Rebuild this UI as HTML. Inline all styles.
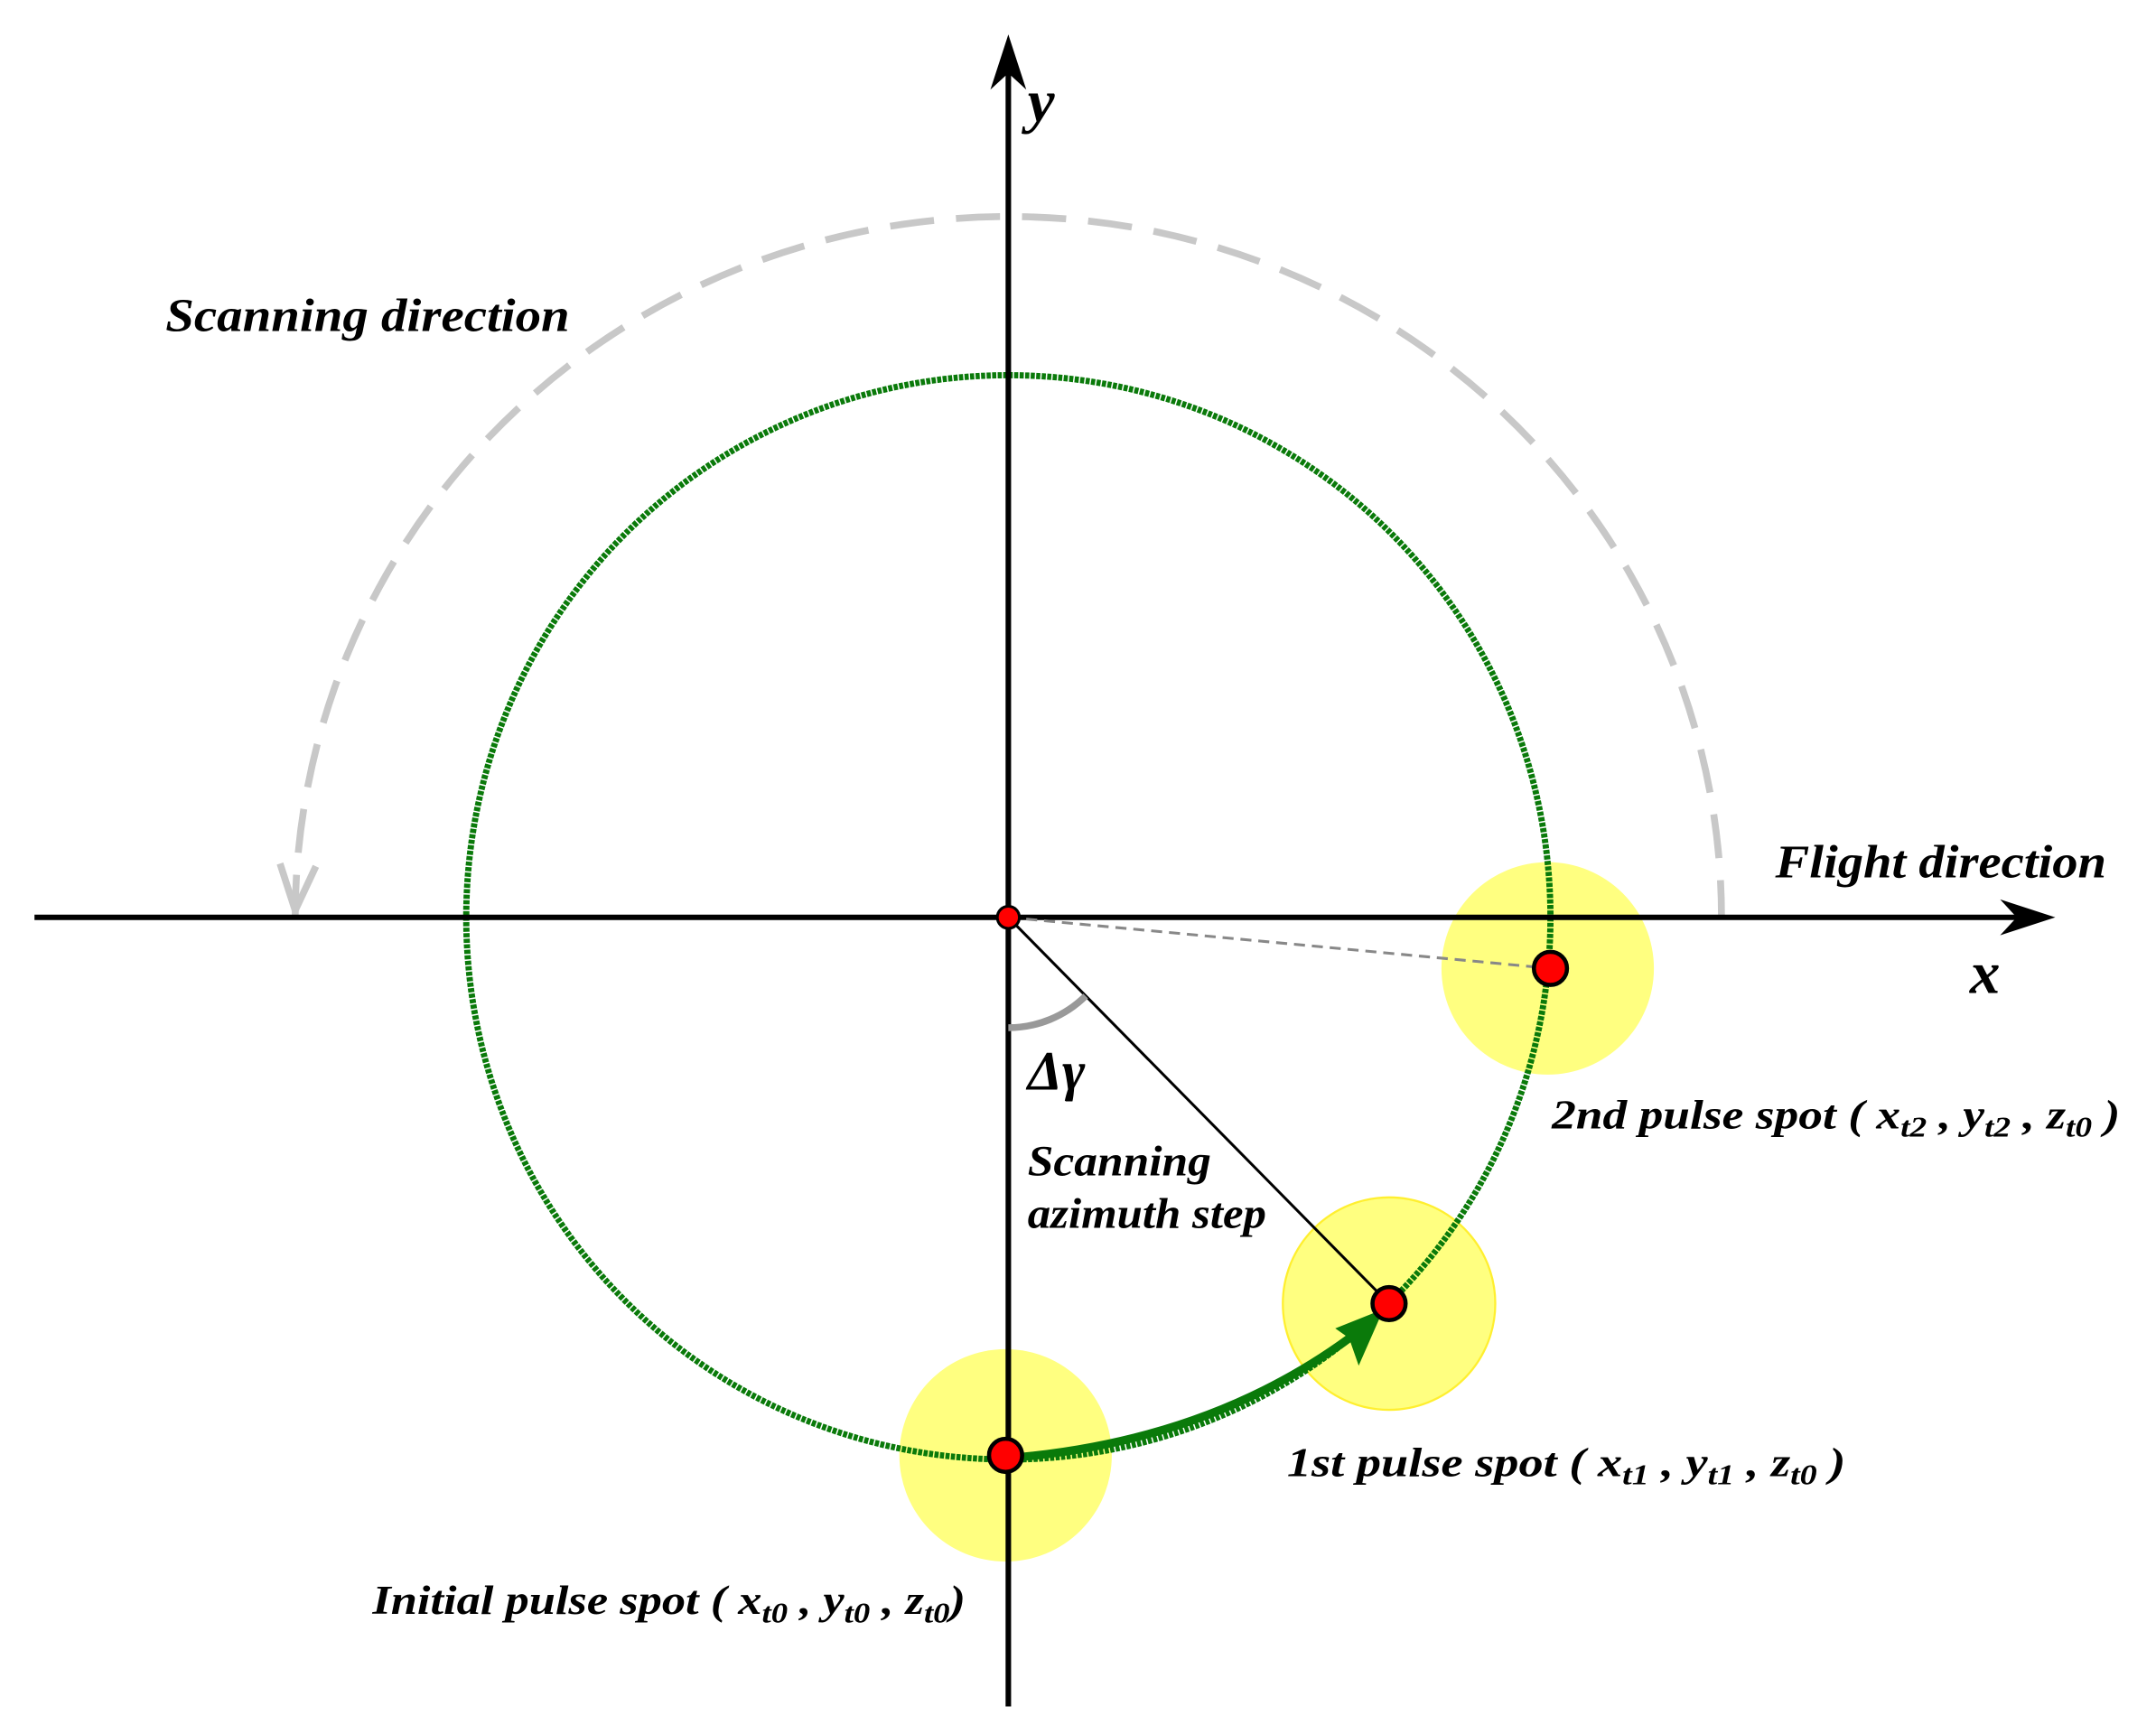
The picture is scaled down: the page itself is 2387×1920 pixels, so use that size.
<!DOCTYPE html>
<html><head><style>html,body{margin:0;padding:0;background:#fff}svg{display:block}</style></head>
<body>
<svg width="2387" height="1920" viewBox="0 0 1563 1257" xmlns="http://www.w3.org/2000/svg" preserveAspectRatio="none">
<!-- dashed scanning arc -->
<path d="M1248,665 A517,508 0 0 0 214,665" fill="none" stroke="#c8c8c8" stroke-width="5" stroke-dasharray="32,16" stroke-dashoffset="5"/>
<polyline points="203,626 214,660 229,628" fill="none" stroke="#c8c8c8" stroke-width="5"/>
<!-- yellow spots -->
<circle cx="729" cy="1055" r="77" fill="#ffff80"/>
<circle cx="1007" cy="945" r="77" fill="#ffff80" stroke="#ffef30" stroke-width="1.5"/>
<circle cx="1122" cy="702" r="77" fill="#ffff80"/>
<!-- green circle -->
<circle cx="731" cy="665" r="393" fill="none" stroke="#0a7a0a" stroke-width="4.5" stroke-dasharray="3,1"/>
<!-- axes -->
<line x1="25" y1="665" x2="1470" y2="665" stroke="#000" stroke-width="4"/>
<polygon points="1490,665 1450,652 1462,665 1450,678" fill="#000"/>
<line x1="731" y1="45" x2="731" y2="1237" stroke="#000" stroke-width="4"/>
<polygon points="731,25 718,65 731,53 744,65" fill="#000"/>
<!-- lines -->
<line x1="731" y1="665" x2="1124" y2="702" stroke="#888" stroke-width="2" stroke-dasharray="8,5"/>
<line x1="731" y1="665" x2="1007" y2="945" stroke="#000" stroke-width="2"/>
<path d="M731,745 A80,80 0 0 0 787,722" fill="none" stroke="#999" stroke-width="5"/>
<!-- green arrow -->
<path d="M731,1057 Q880,1045 985,965" fill="none" stroke="#0a7a0a" stroke-width="6"/>
<polygon points="1003,949 968,963 978,970 985,990" fill="#0a7a0a"/>
<!-- red dots -->
<circle cx="729" cy="1055" r="12" fill="#f00" stroke="#000" stroke-width="3"/>
<circle cx="1007" cy="945" r="12" fill="#f00" stroke="#000" stroke-width="3"/>
<circle cx="1124" cy="702" r="12" fill="#f00" stroke="#000" stroke-width="3"/>
<circle cx="731" cy="665" r="8" fill="#f00" stroke="#000" stroke-width="2"/>
<!-- text -->
<g style="font-family:'Liberation Serif',serif;font-weight:bold;font-style:italic" fill="#000">
<text x="120" y="240" font-size="34" textLength="293" lengthAdjust="spacingAndGlyphs">Scanning direction</text>
<text x="1287" y="636" font-size="34" textLength="240" lengthAdjust="spacingAndGlyphs">Flight direction</text>
<text x="745" y="88" font-size="44">y</text>
<text x="1428" y="720" font-size="44">x</text>
<text x="745" y="790" font-size="40">Δγ</text>
<text x="745" y="852" font-size="31" textLength="133" lengthAdjust="spacingAndGlyphs">Scanning</text>
<text x="745" y="890" font-size="31" textLength="173" lengthAdjust="spacingAndGlyphs">azimuth step</text>
<text x="1125" y="818" font-size="30" textLength="412" lengthAdjust="spacingAndGlyphs">2nd pulse spot  ( x<tspan font-size="21" dy="6">t2</tspan><tspan dy="-6"> , y</tspan><tspan font-size="21" dy="6">t2</tspan><tspan dy="-6"> , z</tspan><tspan font-size="21" dy="6">t0</tspan><tspan dy="-6">  )</tspan></text>
<text x="933" y="1070" font-size="30" textLength="405" lengthAdjust="spacingAndGlyphs">1st pulse spot  ( x<tspan font-size="21" dy="6">t1</tspan><tspan dy="-6"> , y</tspan><tspan font-size="21" dy="6">t1</tspan><tspan dy="-6"> , z</tspan><tspan font-size="21" dy="6">t0</tspan><tspan dy="-6">  )</tspan></text>
<text x="270" y="1170" font-size="30" textLength="430" lengthAdjust="spacingAndGlyphs">Initial pulse spot ( x<tspan font-size="21" dy="6">t0</tspan><tspan dy="-6"> , y</tspan><tspan font-size="21" dy="6">t0</tspan><tspan dy="-6"> , z</tspan><tspan font-size="21" dy="6">t0</tspan><tspan dy="-6">)</tspan></text>
</g>
</svg>
</body></html>
